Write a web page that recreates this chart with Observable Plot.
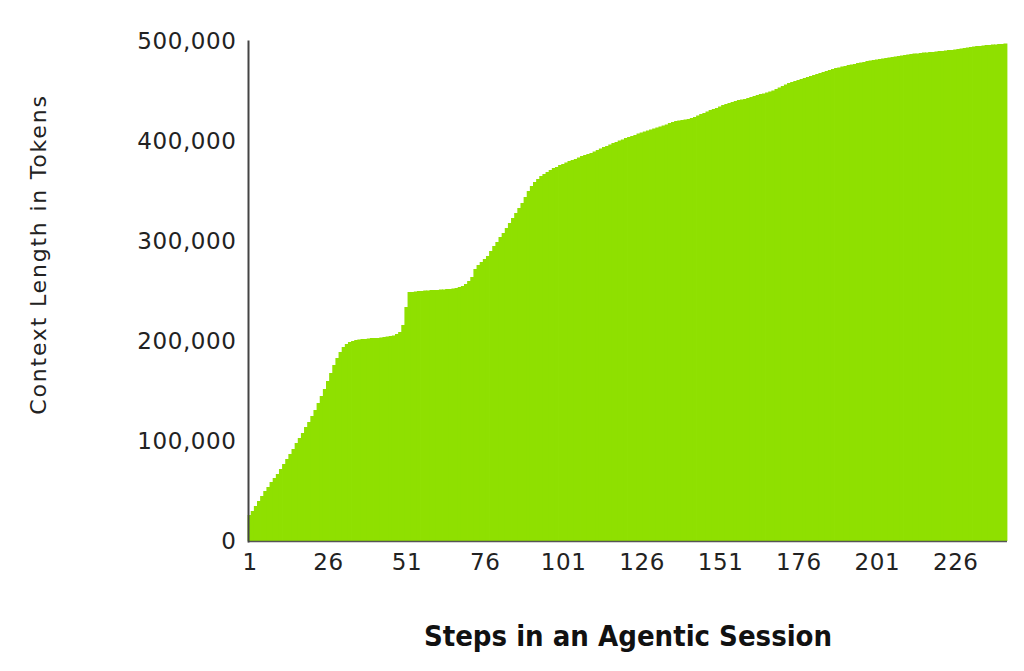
<!DOCTYPE html>
<html><head><meta charset="utf-8">
<script src="https://cdn.jsdelivr.net/npm/d3@7"></script>
<script src="https://cdn.jsdelivr.net/npm/@observablehq/plot@0.6"></script>
<style>
body{margin:0;background:#fff}
g[aria-label="y-axis tick label"] text, g[aria-label="x-axis tick label"] text {letter-spacing:0.6px}
</style>
</head><body><div id="chart"></div>
<script>
// Context length per step, in thousands of tokens
const contextK = [
 26,30,35,40,45,50,54,59,63,67,
 72,77,82,87,92,98,103,108,114,119,
 125,131,138,145,152,160,168,176,183,189,
 194,197,199,200,201,201.5,202,202,202.5,203,
 203,203,203.5,204,204.5,205,205.5,207,209,216,
 234,249,249,249.5,250,250,250.5,250.5,251,251,
 251,251.5,251.5,252,252,252.5,253,254,255,257,
 260,264,272,276,279,282,285,290,295,299,
 304,308,313,318,323,328,333,338,344,350,
 355,359,362,365,367,369,371,373,374,376,
 377,378.5,380,381,382,383.5,385,386,387,388,
 389.5,391,392.5,394,395,396.5,398,399,400.5,401.5,
 403,404,405,406,407.5,408.5,409.5,410.5,411.5,412.5,
 413.5,414.5,415.5,416.5,418,419,420,420.5,421,421.5,
 422,423,424,425.5,427,428,429.5,431,432,433,
 434.5,436,437,438,439,440,441,441.5,442,443,
 444,445,446,447,447.5,448.5,449.5,450.5,452,453.5,
 455,456.5,458,459,460,461,462,463,464,465,
 466,467,468,469,470,471,472,473,473.5,474.5,
 475,476,476.5,477,478,478.5,479,480,480.5,481,
 481.5,482,482.5,483,483.5,484,484.5,485,485.5,486,
 486.5,487,487.5,487.5,488,488.5,488.5,489,489,489.5,
 490,490,490.5,491,491,491.5,492,492.5,493,493.5,
 494,494.5,495,495,495.5,496,496,496.5,496.5,497,
 497,497.5
];
const steps = contextK.map((_, i) => i + 1);
const xTicks = [1, 26, 51, 76, 101, 126, 151, 176, 201, 226];
const yTicks = [0, 100000, 200000, 300000, 400000, 500000];
const xLabel = "Steps in an Agentic Session";
const yLabel = "Context Length in Tokens";

const data = steps.map((s, i) => ({step: s, tokens: contextK[i] * 1000}));

const chart = Plot.plot({
  width: 1024, height: 671,
  marginLeft: 248, marginRight: 17, marginTop: 41, marginBottom: 130,
  style: {fontFamily: "DejaVu Sans", fontSize: "23px", color: "#222", background: "#fff"},
  x: {type: "band", domain: steps, padding: 0},
  y: {domain: [0, 500000]},
  marks: [
    Plot.barY(data, {x: "step", y: "tokens", fill: "#8fe000", insetLeft: -0.4, insetRight: -0.4}),
    Plot.ruleY([0], {stroke: "#555", strokeWidth: 1.5}),
    Plot.axisY({ticks: yTicks, tickFormat: d3.format(","), tickSize: 0, tickPadding: 12, label: null, fontSize: 23}),
    Plot.axisX({ticks: xTicks, tickSize: 0, tickPadding: 12, label: null, fontSize: 23}),
    Plot.frame({anchor: "left", stroke: "#444", strokeWidth: 2}),
    Plot.text([yLabel], {frameAnchor: "left", textAnchor: "middle", dx: -210, dy: -37, rotate: -90, text: d => d, fontSize: 22, fill: "#222"}),
    Plot.text([xLabel], {frameAnchor: "bottom", textAnchor: "middle", dy: 104, text: d => d, fontSize: 29, fontWeight: "bold", fontFamily: "DejaVu Sans Condensed", fill: "#111"})
  ]
});
document.getElementById("chart").appendChild(chart);
// letter spacing for the wide axis-title face of the reference
d3.select(chart).selectAll("text").filter(function(){ return this.textContent === yLabel; })
  .style("letter-spacing", "1.8px");
</script>
</body></html>
